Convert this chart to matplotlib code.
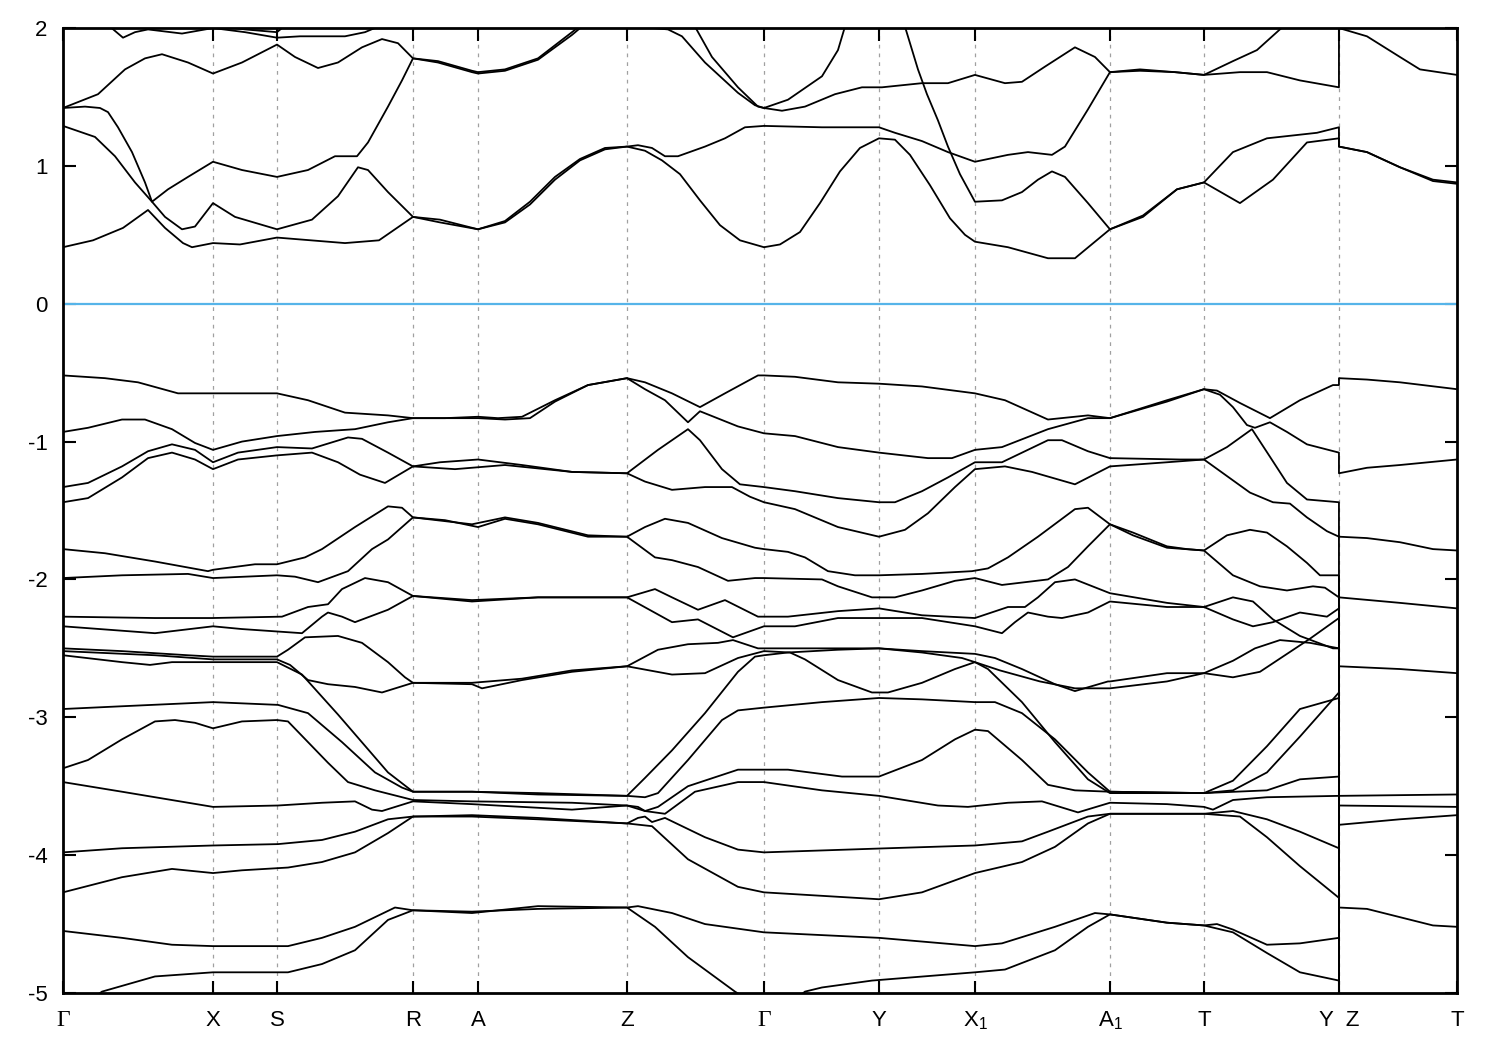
import matplotlib
matplotlib.use("Agg")
import matplotlib.pyplot as plt

plt.rcParams['font.family'] = ['Liberation Sans', 'DejaVu Sans']
plt.rcParams['axes.unicode_minus'] = False
plt.rcParams['mathtext.fontset'] = 'custom'
plt.rcParams['mathtext.rm'] = 'Liberation Sans'

# high-symmetry points along the path
k_ticks = [0.0, 1.50, 2.14, 3.50, 4.15, 5.64, 7.01, 8.16, 9.12, 10.47, 11.41, 12.76, 13.94]
k_labels = ['Γ', 'X', 'S', 'R', 'A', 'Z', 'Γ', 'Y', 'X$_1$', 'A$_1$', 'T', 'Y  Z', 'T']

# conduction bands, (k, E) pairs
cb_a = [(0.00, 0.41), (0.30, 0.46), (0.60, 0.55), (0.85, 0.68), (1.02, 0.55), (1.20, 0.44), (1.29, 0.41),
        (1.50, 0.44), (1.77, 0.43), (2.14, 0.48), (2.48, 0.46), (2.82, 0.44), (3.16, 0.46), (3.50, 0.63),
        (3.77, 0.59), (4.15, 0.54), (4.42, 0.59), (4.67, 0.72), (4.92, 0.90), (5.17, 1.04), (5.42, 1.12),
        (5.64, 1.14), (5.82, 1.11), (5.99, 1.04), (6.17, 0.94), (6.37, 0.75), (6.57, 0.57), (6.77, 0.46),
        (7.01, 0.41), (7.17, 0.43), (7.37, 0.52), (7.57, 0.73), (7.77, 0.96), (7.97, 1.13), (8.16, 1.20),
        (8.32, 1.19), (8.47, 1.08), (8.67, 0.86), (8.87, 0.62), (9.02, 0.50), (9.12, 0.45), (9.45, 0.41),
        (9.85, 0.33), (10.12, 0.33), (10.47, 0.54), (10.80, 0.63), (11.14, 0.83), (11.41, 0.88),
        (11.77, 0.73), (12.10, 0.90), (12.44, 1.17), (12.76, 1.20), (12.76, 1.14), (13.04, 1.10),
        (13.37, 0.99), (13.70, 0.90), (13.94, 0.88)]
cb_b = [(0.00, 1.29), (0.32, 1.21), (0.52, 1.07), (0.72, 0.88), (0.89, 0.74), (1.02, 0.63), (1.19, 0.54),
        (1.32, 0.56), (1.50, 0.73), (1.72, 0.63), (2.14, 0.54), (2.49, 0.61), (2.75, 0.78), (2.95, 0.99),
        (3.05, 0.97), (3.25, 0.81), (3.50, 0.63), (3.77, 0.61), (4.15, 0.54), (4.42, 0.60), (4.67, 0.74),
        (4.92, 0.92), (5.17, 1.05), (5.42, 1.13), (5.64, 1.14), (5.75, 1.15), (5.89, 1.13), (6.02, 1.07),
        (6.15, 1.07), (6.42, 1.14), (6.62, 1.20), (6.82, 1.28), (7.01, 1.29), (7.59, 1.28), (8.16, 1.28),
        (8.32, 1.24), (8.59, 1.18), (8.85, 1.10), (9.12, 1.03), (9.45, 1.08), (9.65, 1.10), (9.89, 1.08),
        (10.02, 1.14), (10.25, 1.41), (10.47, 1.68), (10.77, 1.70), (11.12, 1.68), (11.41, 1.66),
        (11.77, 1.68), (12.04, 1.68), (12.37, 1.62), (12.76, 1.57), (12.76, 2.00), (13.04, 1.94),
        (13.37, 1.79), (13.57, 1.70), (13.94, 1.66)]
cb_c = [(0.00, 1.42), (0.22, 1.43), (0.37, 1.42), (0.45, 1.39), (0.55, 1.28), (0.69, 1.10), (0.82, 0.88),
        (0.89, 0.74), (1.05, 0.83), (1.25, 0.92), (1.50, 1.03), (1.79, 0.97), (2.14, 0.92), (2.45, 0.97),
        (2.72, 1.07), (2.94, 1.07), (3.05, 1.17), (3.25, 1.43), (3.39, 1.62), (3.50, 1.78), (3.75, 1.75),
        (4.09, 1.68), (4.15, 1.67), (4.42, 1.69), (4.75, 1.77), (5.09, 1.95), (5.27, 2.06)]
cb_d = [(0.00, 1.42), (0.35, 1.52), (0.62, 1.70), (0.82, 1.78), (0.99, 1.81), (1.25, 1.75), (1.50, 1.67),
        (1.79, 1.75), (2.14, 1.88), (2.32, 1.79), (2.55, 1.71), (2.75, 1.75), (2.99, 1.86), (3.19, 1.92),
        (3.35, 1.89), (3.50, 1.78), (3.75, 1.76), (4.09, 1.69), (4.15, 1.68), (4.42, 1.70), (4.75, 1.78),
        (5.09, 1.97), (5.25, 2.06)]
cb_e = [(8.39, 2.07), (8.42, 2.01), (8.55, 1.70), (8.64, 1.52), (8.75, 1.33), (8.85, 1.14), (8.97, 0.94),
        (9.12, 0.74), (9.39, 0.75), (9.59, 0.81), (9.75, 0.90), (9.89, 0.96), (10.02, 0.92), (10.25, 0.73),
        (10.47, 0.54), (10.80, 0.64), (11.14, 0.83), (11.41, 0.88), (11.70, 1.10), (12.04, 1.20),
        (12.54, 1.24), (12.76, 1.28), (12.76, 1.14), (13.04, 1.10), (13.37, 0.99), (13.70, 0.89),
        (13.94, 0.87)]
cb_f = [(0.37, 2.06), (0.47, 2.01), (0.60, 1.93), (0.72, 1.97), (0.85, 1.99), (1.19, 1.96), (1.50, 2.00),
        (1.82, 1.97), (2.14, 1.93), (2.37, 1.94), (2.82, 1.94), (3.02, 1.97), (3.15, 2.01), (3.22, 2.06)]
cb_g = [(1.37, 2.06), (1.50, 2.02), (1.82, 1.99), (2.14, 1.97), (2.19, 2.00), (2.27, 2.06)]
cb_h = [(5.52, 2.06), (5.75, 2.01), (6.05, 1.99), (6.19, 1.94), (6.42, 1.75), (6.75, 1.53), (6.92, 1.44),
        (7.01, 1.42), (7.19, 1.40), (7.42, 1.43), (7.72, 1.52), (7.99, 1.57), (8.19, 1.57), (8.59, 1.60),
        (8.85, 1.60), (9.12, 1.66), (9.42, 1.60), (9.59, 1.61), (9.82, 1.72), (10.12, 1.86), (10.32, 1.79),
        (10.47, 1.68), (10.77, 1.69), (11.12, 1.68), (11.41, 1.66), (11.70, 1.76), (11.94, 1.84),
        (12.20, 2.01), (12.27, 2.07)]
cb_i = [(6.25, 2.06), (6.32, 2.01), (6.49, 1.79), (6.75, 1.57), (6.95, 1.43), (7.01, 1.42), (7.25, 1.48),
        (7.59, 1.65), (7.75, 1.84), (7.82, 2.01), (7.85, 2.07)]

# valence bands, (k, E) pairs
vb_1 = [(0.00, -0.52), (0.42, -0.54), (0.75, -0.57), (1.15, -0.65), (1.50, -0.65), (2.14, -0.65),
        (2.45, -0.70), (2.82, -0.79), (3.25, -0.81), (3.50, -0.83), (3.82, -0.83), (4.15, -0.82),
        (4.35, -0.83), (4.59, -0.82), (4.92, -0.70), (5.25, -0.59), (5.64, -0.54), (5.82, -0.57),
        (6.09, -0.65), (6.37, -0.75), (6.62, -0.65), (6.95, -0.52), (7.01, -0.52), (7.32, -0.53),
        (7.75, -0.57), (8.16, -0.58), (8.59, -0.60), (9.12, -0.65), (9.42, -0.70), (9.85, -0.84),
        (10.25, -0.81), (10.47, -0.83), (11.04, -0.70), (11.41, -0.62), (11.54, -0.63), (11.77, -0.72),
        (12.07, -0.83), (12.37, -0.70), (12.70, -0.59), (12.76, -0.59), (12.76, -0.54), (13.04, -0.55),
        (13.37, -0.57), (13.94, -0.62)]
vb_2 = [(0.00, -0.93), (0.25, -0.90), (0.59, -0.84), (0.82, -0.84), (1.09, -0.91), (1.32, -1.01),
        (1.50, -1.06), (1.79, -1.00), (2.14, -0.96), (2.52, -0.93), (2.92, -0.91), (3.25, -0.86),
        (3.50, -0.83), (3.82, -0.83), (4.15, -0.83), (4.42, -0.84), (4.67, -0.83), (4.92, -0.71),
        (5.25, -0.59), (5.64, -0.54), (5.82, -0.62), (6.02, -0.70), (6.25, -0.86), (6.37, -0.78),
        (6.75, -0.89), (7.01, -0.94), (7.32, -0.96), (7.75, -1.04), (8.16, -1.08), (8.65, -1.12),
        (8.89, -1.12), (9.12, -1.06), (9.39, -1.04), (9.85, -0.91), (10.25, -0.83), (10.47, -0.83),
        (11.04, -0.71), (11.41, -0.62), (11.57, -0.66), (11.70, -0.75), (11.84, -0.88), (11.92, -0.90),
        (12.07, -0.86), (12.24, -0.93), (12.44, -1.02), (12.76, -1.08), (12.76, -1.23), (13.04, -1.19),
        (13.37, -1.17), (13.94, -1.13)]
vb_3 = [(0.00, -1.33), (0.25, -1.30), (0.59, -1.18), (0.85, -1.07), (1.09, -1.02), (1.32, -1.06),
        (1.50, -1.15), (1.75, -1.08), (2.14, -1.04), (2.49, -1.05), (2.85, -0.97), (2.99, -0.98),
        (3.25, -1.08), (3.50, -1.18), (3.77, -1.15), (4.15, -1.13), (4.59, -1.17), (5.09, -1.22),
        (5.64, -1.23), (5.95, -1.06), (6.25, -0.91), (6.37, -0.99), (6.59, -1.20), (6.77, -1.31),
        (7.01, -1.33), (7.32, -1.36), (7.75, -1.41), (8.16, -1.44), (8.32, -1.44), (8.59, -1.36),
        (8.85, -1.26), (9.12, -1.15), (9.39, -1.15), (9.85, -0.99), (9.99, -0.99), (10.25, -1.07),
        (10.47, -1.12), (11.17, -1.13), (11.41, -1.13), (11.64, -1.04), (11.89, -0.91), (12.07, -1.11),
        (12.24, -1.30), (12.44, -1.42), (12.76, -1.44), (12.76, -1.69), (13.04, -1.70), (13.37, -1.73),
        (13.70, -1.78), (13.94, -1.79)]
vb_4 = [(0.00, -1.44), (0.25, -1.41), (0.59, -1.26), (0.85, -1.12), (1.09, -1.08), (1.32, -1.13),
        (1.50, -1.20), (1.75, -1.13), (2.14, -1.10), (2.49, -1.08), (2.75, -1.15), (2.97, -1.24),
        (3.22, -1.30), (3.50, -1.18), (3.92, -1.20), (4.42, -1.17), (5.09, -1.22), (5.64, -1.23),
        (5.82, -1.29), (6.09, -1.35), (6.42, -1.33), (6.69, -1.33), (6.87, -1.40), (7.01, -1.44),
        (7.32, -1.49), (7.75, -1.62), (8.16, -1.69), (8.42, -1.64), (8.65, -1.52), (8.92, -1.33),
        (9.12, -1.20), (9.42, -1.18), (9.69, -1.22), (10.12, -1.31), (10.47, -1.18), (11.04, -1.15),
        (11.41, -1.13), (11.64, -1.25), (11.87, -1.37), (12.10, -1.44), (12.27, -1.45), (12.44, -1.55),
        (12.64, -1.65), (12.76, -1.69), (12.76, -2.13), (13.37, -2.17), (13.94, -2.21)]
vb_5 = [(0.00, -1.78), (0.42, -1.81), (0.92, -1.87), (1.45, -1.94), (1.50, -1.93), (1.92, -1.89),
        (2.14, -1.89), (2.42, -1.84), (2.59, -1.78), (2.92, -1.62), (3.25, -1.47), (3.39, -1.48),
        (3.50, -1.55), (4.09, -1.60), (4.42, -1.55), (4.75, -1.59), (5.25, -1.68), (5.64, -1.69),
        (5.82, -1.62), (6.02, -1.56), (6.25, -1.59), (6.59, -1.70), (6.92, -1.77), (7.01, -1.78),
        (7.25, -1.80), (7.42, -1.84), (7.65, -1.94), (7.92, -1.97), (8.16, -1.97), (8.59, -1.96),
        (9.09, -1.94), (9.25, -1.92), (9.45, -1.84), (9.75, -1.69), (10.12, -1.49), (10.25, -1.48),
        (10.47, -1.60), (10.70, -1.66), (11.04, -1.76), (11.24, -1.78), (11.41, -1.79), (11.64, -1.68),
        (11.87, -1.64), (12.04, -1.66), (12.24, -1.76), (12.44, -1.88), (12.57, -1.97), (12.76, -1.97),
        (12.76, -2.63), (13.37, -2.65), (13.94, -2.68)]
vb_6 = [(0.00, -1.99), (0.59, -1.97), (1.25, -1.96), (1.50, -1.99), (2.14, -1.97), (2.32, -1.98),
        (2.55, -2.02), (2.85, -1.94), (3.09, -1.78), (3.25, -1.71), (3.50, -1.55), (3.82, -1.57),
        (4.15, -1.62), (4.42, -1.56), (4.75, -1.60), (5.25, -1.69), (5.64, -1.69), (5.92, -1.84),
        (6.09, -1.86), (6.35, -1.91), (6.65, -2.01), (6.92, -1.99), (7.01, -1.99), (7.59, -2.00),
        (7.75, -2.05), (8.09, -2.13), (8.32, -2.13), (8.59, -2.08), (8.92, -2.01), (9.12, -1.99),
        (9.39, -2.04), (9.62, -2.02), (9.85, -2.00), (10.05, -1.91), (10.25, -1.76), (10.47, -1.60),
        (10.70, -1.68), (11.04, -1.77), (11.41, -1.79), (11.70, -1.97), (11.97, -2.05), (12.24, -2.08),
        (12.50, -2.05), (12.62, -2.06), (12.76, -2.13), (12.76, -3.57), (13.94, -3.56)]
vb_7 = [(0.00, -2.27), (0.92, -2.28), (1.49, -2.28), (2.19, -2.27), (2.45, -2.20), (2.65, -2.18),
        (2.79, -2.07), (3.02, -1.99), (3.25, -2.02), (3.50, -2.12), (4.09, -2.15), (4.75, -2.13),
        (5.64, -2.13), (5.92, -2.07), (6.09, -2.13), (6.35, -2.22), (6.62, -2.15), (6.95, -2.27),
        (7.01, -2.27), (7.25, -2.27), (7.75, -2.23), (8.16, -2.21), (8.59, -2.26), (9.12, -2.28),
        (9.45, -2.20), (9.62, -2.20), (9.75, -2.13), (9.92, -2.02), (10.12, -2.00), (10.47, -2.10),
        (11.04, -2.17), (11.41, -2.20), (11.70, -2.29), (11.90, -2.34), (12.10, -2.31), (12.37, -2.24),
        (12.64, -2.27), (12.76, -2.21), (12.76, -3.64), (13.94, -3.65)]
vb_8 = [(0.00, -2.34), (0.92, -2.39), (1.50, -2.34), (1.79, -2.36), (2.39, -2.39), (2.59, -2.27),
        (2.65, -2.24), (2.79, -2.27), (2.92, -2.31), (3.25, -2.22), (3.50, -2.12), (4.09, -2.16),
        (4.75, -2.13), (5.64, -2.13), (6.09, -2.31), (6.35, -2.29), (6.70, -2.42), (7.01, -2.34),
        (7.32, -2.34), (7.75, -2.28), (8.16, -2.28), (8.59, -2.28), (9.12, -2.34), (9.39, -2.39),
        (9.52, -2.31), (9.65, -2.24), (9.85, -2.27), (9.99, -2.28), (10.25, -2.24), (10.47, -2.16),
        (11.04, -2.20), (11.41, -2.20), (11.70, -2.13), (11.90, -2.16), (12.10, -2.29), (12.37, -2.41),
        (12.70, -2.50), (12.76, -2.50), (12.76, -4.38), (13.04, -4.39), (13.37, -4.45), (13.70, -4.51),
        (13.94, -4.52)]
vb_9 = [(0.00, -2.50), (0.59, -2.52), (1.25, -2.55), (1.50, -2.56), (2.14, -2.56), (2.25, -2.51),
        (2.42, -2.42), (2.75, -2.41), (2.99, -2.46), (3.25, -2.60), (3.42, -2.71), (3.50, -2.75),
        (4.09, -2.76), (4.19, -2.79), (4.59, -2.73), (5.09, -2.67), (5.64, -2.63), (5.95, -2.51),
        (6.25, -2.47), (6.55, -2.46), (6.70, -2.44), (6.95, -2.50), (7.01, -2.50), (7.25, -2.50),
        (7.75, -2.50), (8.16, -2.50), (8.59, -2.52), (9.12, -2.54), (9.32, -2.57), (9.59, -2.65),
        (9.92, -2.76), (10.12, -2.81), (10.45, -2.74), (10.47, -2.74), (11.04, -2.68), (11.41, -2.68),
        (11.70, -2.59), (11.92, -2.50), (12.17, -2.44), (12.47, -2.46), (12.76, -2.50), (12.76, -5.30)]
vb_10 = [(0.00, -2.52), (0.92, -2.55), (1.50, -2.58), (2.14, -2.58), (2.27, -2.62), (2.45, -2.73),
         (2.65, -2.76), (2.92, -2.78), (3.19, -2.82), (3.50, -2.75), (4.09, -2.75), (4.59, -2.72),
         (5.09, -2.66), (5.64, -2.63), (6.09, -2.69), (6.42, -2.68), (6.75, -2.57), (7.01, -2.52),
         (7.27, -2.53), (7.42, -2.58), (7.75, -2.73), (8.09, -2.82), (8.25, -2.82), (8.59, -2.75),
         (8.92, -2.65), (9.12, -2.60), (9.37, -2.66), (9.77, -2.74), (10.12, -2.79), (10.47, -2.79),
         (11.04, -2.74), (11.41, -2.68), (11.70, -2.71), (11.97, -2.67), (12.22, -2.55), (12.47, -2.43),
         (12.76, -2.28), (12.76, -3.78), (13.37, -3.74), (13.94, -3.71)]
vb_11 = [(0.00, -2.55), (0.59, -2.60), (0.87, -2.62), (1.09, -2.60), (1.50, -2.60), (2.14, -2.60),
         (2.39, -2.69), (2.75, -2.98), (3.25, -3.40), (3.50, -3.54), (4.09, -3.54), (4.75, -3.55),
         (5.64, -3.57), (5.82, -3.44), (6.09, -3.24), (6.42, -2.97), (6.75, -2.67), (6.92, -2.56),
         (7.01, -2.55), (7.25, -2.53), (7.75, -2.51), (8.16, -2.50), (8.59, -2.53), (8.99, -2.57),
         (9.12, -2.60), (9.25, -2.65), (9.59, -2.89), (9.92, -3.18), (10.25, -3.45), (10.47, -3.55),
         (11.41, -3.55), (11.70, -3.53), (12.04, -3.40), (12.37, -3.14), (12.76, -2.82), (12.76, -5.30)]
vb_12 = [(0.00, -2.94), (0.59, -2.92), (1.50, -2.89), (2.15, -2.91), (2.45, -2.97), (2.79, -3.18),
         (3.12, -3.40), (3.39, -3.51), (3.50, -3.54), (4.09, -3.54), (4.75, -3.56), (5.64, -3.57),
         (5.82, -3.58), (5.95, -3.55), (6.25, -3.31), (6.59, -3.02), (6.75, -2.95), (7.01, -2.93),
         (7.59, -2.89), (8.16, -2.86), (8.59, -2.87), (9.12, -2.89), (9.32, -2.89), (9.59, -2.97),
         (9.92, -3.16), (10.25, -3.40), (10.47, -3.54), (11.41, -3.55), (11.70, -3.46), (12.04, -3.21),
         (12.37, -2.94), (12.76, -2.86), (12.76, -5.30)]
vb_13 = [(0.00, -3.37), (0.25, -3.31), (0.59, -3.16), (0.92, -3.03), (1.12, -3.02), (1.32, -3.04),
         (1.50, -3.08), (1.79, -3.03), (2.14, -3.02), (2.25, -3.03), (2.45, -3.18), (2.65, -3.33),
         (2.85, -3.47), (3.12, -3.53), (3.50, -3.60), (4.09, -3.61), (5.09, -3.62), (5.64, -3.64),
         (5.75, -3.65), (5.82, -3.68), (5.95, -3.65), (6.25, -3.50), (6.75, -3.38), (7.01, -3.38),
         (7.25, -3.38), (7.79, -3.43), (8.16, -3.43), (8.59, -3.31), (8.92, -3.16), (9.12, -3.09),
         (9.25, -3.10), (9.59, -3.31), (9.85, -3.49), (10.12, -3.53), (10.47, -3.54), (11.41, -3.55),
         (12.04, -3.53), (12.37, -3.45), (12.76, -3.43), (12.76, -5.30)]
vb_14 = [(0.00, -3.47), (0.59, -3.54), (1.50, -3.65), (2.15, -3.64), (2.59, -3.62), (2.92, -3.61),
         (3.09, -3.67), (3.19, -3.68), (3.50, -3.61), (4.09, -3.63), (5.09, -3.67), (5.64, -3.64),
         (5.82, -3.68), (6.02, -3.70), (6.32, -3.54), (6.75, -3.47), (7.01, -3.47), (7.59, -3.53),
         (8.16, -3.57), (8.75, -3.64), (9.05, -3.65), (9.45, -3.62), (9.79, -3.61), (10.15, -3.69),
         (10.47, -3.62), (11.04, -3.63), (11.41, -3.65), (11.50, -3.67), (11.70, -3.60), (12.04, -3.58),
         (12.76, -3.57), (12.76, -5.30)]
vb_15 = [(0.00, -3.98), (0.59, -3.95), (1.50, -3.93), (2.15, -3.92), (2.59, -3.89), (2.92, -3.83),
         (3.25, -3.74), (3.50, -3.72), (4.09, -3.71), (4.75, -3.73), (5.64, -3.77), (5.75, -3.73),
         (5.82, -3.72), (5.89, -3.76), (6.02, -3.73), (6.42, -3.87), (6.75, -3.96), (7.01, -3.98),
         (8.25, -3.95), (9.12, -3.93), (9.59, -3.90), (9.85, -3.83), (10.25, -3.72), (10.47, -3.70),
         (11.41, -3.70), (11.70, -3.68), (12.04, -3.74), (12.37, -3.83), (12.76, -3.95), (12.76, -5.30)]
vb_16 = [(0.00, -4.27), (0.59, -4.16), (1.09, -4.10), (1.50, -4.13), (1.79, -4.11), (2.25, -4.09),
         (2.59, -4.05), (2.92, -3.98), (3.25, -3.84), (3.50, -3.72), (4.09, -3.72), (4.75, -3.74),
         (5.64, -3.77), (5.89, -3.79), (6.25, -4.03), (6.75, -4.23), (7.01, -4.27), (8.16, -4.32),
         (8.59, -4.27), (9.12, -4.13), (9.59, -4.05), (9.92, -3.94), (10.25, -3.77), (10.47, -3.70),
         (11.41, -3.70), (11.77, -3.72), (12.04, -3.87), (12.37, -4.08), (12.76, -4.31), (12.76, -5.30)]
vb_17 = [(0.00, -4.55), (0.59, -4.60), (1.09, -4.65), (1.50, -4.66), (2.25, -4.66), (2.59, -4.60),
         (2.92, -4.52), (3.32, -4.38), (3.50, -4.40), (4.09, -4.42), (4.75, -4.37), (5.64, -4.38),
         (5.75, -4.37), (6.09, -4.42), (6.42, -4.50), (7.01, -4.56), (8.16, -4.60), (9.12, -4.66),
         (9.39, -4.64), (9.92, -4.52), (10.32, -4.42), (10.47, -4.43), (11.04, -4.49), (11.41, -4.51),
         (11.54, -4.50), (11.70, -4.54), (12.04, -4.65), (12.37, -4.64), (12.76, -4.60), (12.76, -5.30)]
vb_18 = [(0.00, -5.12), (0.22, -5.08), (0.39, -4.99), (0.92, -4.88), (1.50, -4.85), (2.25, -4.85),
         (2.59, -4.79), (2.92, -4.69), (3.25, -4.47), (3.50, -4.40), (4.09, -4.41), (4.75, -4.39),
         (5.64, -4.38), (5.92, -4.52), (6.25, -4.74), (6.72, -4.99), (7.01, -5.12), (7.27, -5.08),
         (7.42, -4.99), (7.59, -4.96), (8.09, -4.91), (9.12, -4.85), (9.42, -4.83), (9.92, -4.69),
         (10.25, -4.52), (10.47, -4.43), (11.04, -4.49), (11.41, -4.51), (11.70, -4.56), (12.04, -4.71),
         (12.37, -4.85), (12.76, -4.91), (12.76, -5.30)]

bands = [cb_a, cb_b, cb_c, cb_d, cb_e, cb_f, cb_g, cb_h, cb_i,
         vb_1, vb_2, vb_3, vb_4, vb_5, vb_6, vb_7, vb_8, vb_9,
         vb_10, vb_11, vb_12, vb_13, vb_14, vb_15, vb_16, vb_17, vb_18]

fig = plt.figure(figsize=(15, 10.5), dpi=100)
ax = fig.add_axes([0.042, 0.0543, 0.9293, 0.919])

for kx in k_ticks[1:-1]:
    ax.axvline(kx, color='#a0a0a0', lw=0.9, ls=(0, (3, 4)), zorder=1)
ax.axhline(0, color='#56b4e9', lw=1.6, zorder=2)

for band in bands:
    ks = [p[0] for p in band]
    es = [p[1] for p in band]
    ax.plot(ks, es, color='black', lw=1.3, zorder=3)

ax.set_xlim(k_ticks[0], k_ticks[-1])
ax.set_ylim(-5, 2)
ax.set_yticks(range(-5, 3))
ax.set_xticks(k_ticks)
ax.set_xticklabels(k_labels)
ax.tick_params(direction='in', length=9, width=1.5, labelsize=16, top=True, right=True)
ax.tick_params(axis='x', pad=12)
ax.tick_params(axis='y', pad=11)
for lab in ax.get_xticklabels():
    if lab.get_text() == 'Γ':
        lab.set_family('Liberation Serif')
        lab.set_fontsize(17)
for s in ax.spines.values():
    s.set_linewidth(2)

fig.savefig('out.png', dpi=100)
